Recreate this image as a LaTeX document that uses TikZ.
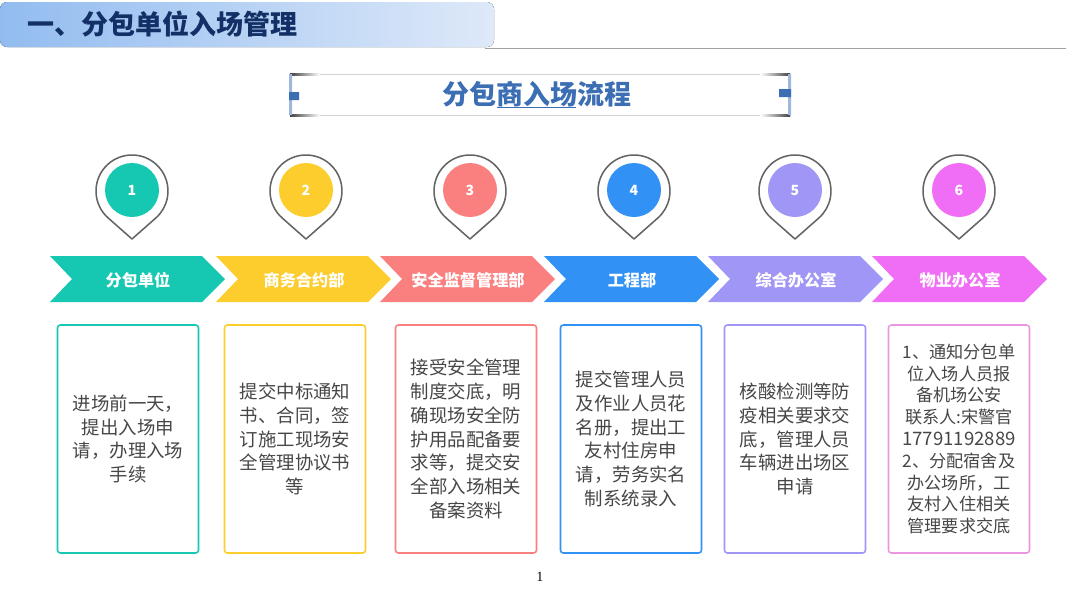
\documentclass[tikz,border=0pt]{standalone}
\usepackage{fontspec}
\usepackage{tikz}
\usetikzlibrary{positioning,calc}
\setmainfont{Noto Sans CJK SC}
\newfontfamily\numfont{Liberation Serif}
\definecolor{HeadLeft}{RGB}{146,188,240}
\definecolor{HeadRight}{RGB}{222,233,249}
\definecolor{HeadText}{RGB}{18,48,102}
\definecolor{TitleBlue}{RGB}{60,110,180}
\definecolor{BodyGray}{RGB}{70,70,70}
\definecolor{PinGray}{RGB}{100,100,100}
\definecolor{StepA}{RGB}{22,200,178}
\definecolor{StepB}{RGB}{252,205,45}
\definecolor{StepC}{RGB}{250,128,128}
\definecolor{StepD}{RGB}{50,145,245}
\definecolor{StepE}{RGB}{160,150,245}
\definecolor{StepF}{RGB}{240,110,245}
\definecolor{BoxPink}{RGB}{235,150,225}
\tikzset{
  numlabel/.style={text=white, font=\bfseries\fontsize{10}{12}\selectfont},
  barlabel/.style={text=white, font=\bfseries\fontsize{11.5}{14}\selectfont},
  bodybox/.style={draw=#1, line width=1.1pt, rounded corners=2pt, minimum width=141*0.25mm, minimum height=228*0.25mm, align=center, text=BodyGray, inner sep=0pt, font=\fontsize{13.1}{16.9}\selectfont, execute at begin node={\vspace*{1mm}}},
}
\begin{document}
\begin{tikzpicture}[x=0.25mm,y=-0.25mm]
  \useasboundingbox (0,0) rectangle (1080,608);
  % header
  \draw[PinGray!60, line width=0.7pt] (485,48.5)--(1066,48.5);
  \fill[left color=HeadLeft, right color=HeadRight, rounded corners=5pt] (0,2) rectangle (494,47);
  \node[anchor=west, inner sep=0pt, text=HeadText, font=\bfseries\fontsize{19.2}{22}\selectfont] (headtext) at (27,24) {一、分包单位入场管理};
  % title frame
  \draw[gray!35, line width=0.5pt] (290,74) rectangle (790,115);
  \shade[left color=black!75, right color=white] (290,73.5) rectangle (320,75);
  \shade[left color=black!75, right color=white] (290,114.5) rectangle (320,116);
  \shade[left color=white, right color=black!75] (760,73.5) rectangle (790,75);
  \shade[left color=white, right color=black!75] (760,114.5) rectangle (790,116);
  \fill[TitleBlue!50] (289,74) rectangle (292,115) (788,74) rectangle (791,115);
  \fill[TitleBlue] (289,92) rectangle (299,100) (779,89) rectangle (791,97);
  \node[text=TitleBlue, font=\bfseries\fontsize{19.2}{22}\selectfont] (title) at (537,94) {分包商入场流程};
  \draw[TitleBlue, line width=0.8pt] (497,107.5)--(576,107.5);
  % pins
  \foreach \cx/\num/\col in {132/1/StepA,306/2/StepB,470/3/StepC,634/4/StepD,795/5/StepE,959/6/StepF}{
    \draw[PinGray, line width=1.1pt, line join=round] (\cx,239) -- ({\cx-23.8},218) arc[start angle=131.4, end angle=408.6, radius=36] -- cycle;
    \fill[\col] (\cx,190) circle[radius=27];
    \node[numlabel] (pin\num) at (\cx,190) {\num};
  }
  % chevrons
  \foreach \lx/\num/\col/\lab in {50/1/StepA/分包单位,216/2/StepB/商务合约部,380/3/StepC/安全监督管理部,544/4/StepD/工程部,708/5/StepE/综合办公室,872/6/StepF/物业办公室}{
    \fill[\col] (\lx,256) -- ({\lx+152},256) -- ({\lx+175},279) -- ({\lx+152},302) -- (\lx,302) -- ({\lx+22},279) -- cycle;
    \node[barlabel] (bar\num) at ({\lx+88},280) {\lab};
  }
  % boxes
  \node[bodybox=StepA] (boxa) at (128,439) {进场前一天，\\提出入场申\\请，办理入场\\手续};
  \node[bodybox=StepB] (boxb) at (295,439) {提交中标通知\\书、合同，签\\订施工现场安\\全管理协议书\\等};
  \node[bodybox=StepC] (boxc) at (466,439) {接受安全管理\\制度交底，明\\确现场安全防\\护用品配备要\\求等，提交安\\全部入场相关\\备案资料};
  \node[bodybox=StepD] (boxd) at (631,439) {提交管理人员\\及作业人员花\\名册，提出工\\友村住房申\\请，劳务实名\\制系统录入};
  \node[bodybox=StepE] (boxe) at (795,439) {核酸检测等防\\疫相关要求交\\底，管理人员\\车辆进出场区\\申请};
  \node[bodybox=BoxPink, font=\fontsize{12.2}{15.5}\selectfont] (boxf) at (959,439) {1、通知分包单\\位入场人员报\\备机场公安\\联系人:宋警官\\{\fontsize{13.2}{15.5}\selectfont 17791192889}\\2、分配宿舍及\\办公场所，工\\友村入住相关\\管理要求交底};
  \node[text=black, font=\numfont\fontsize{10}{12}\selectfont] (pagenum) at (540,577) {1};
\end{tikzpicture}
\end{document}
